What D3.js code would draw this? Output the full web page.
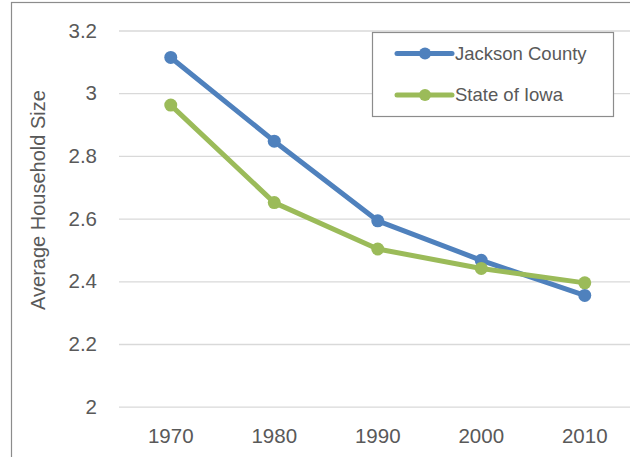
<!DOCTYPE html>
<html>
<head>
<meta charset="utf-8">
<script src="https://cdn.jsdelivr.net/npm/d3@7"></script>
<style>
  body { margin: 0; background: #fff; }
  svg { display: block; font-family: "Liberation Sans", Arial, sans-serif; }
  .axis text { fill: #595959; font-size: 20.5px; }
  .grid line { stroke: #d9d9d9; stroke-width: 1.3; }
</style>
</head>
<body>
<div id="plot"></div>
<script>
// chart data
var years = ["1970", "1980", "1990", "2000", "2010"];
var jackson = [3.114, 2.847, 2.593, 2.467, 2.355];
var iowa = [2.962, 2.651, 2.503, 2.441, 2.395];
var yTicks = [2, 2.2, 2.4, 2.6, 2.8, 3, 3.2];
var seriesNames = ["Jackson County", "State of Iowa"];
var seriesColors = ["#4f81bd", "#9bbb59"];

var W = 630, H = 457;
var plotLeft = 119, plotRight = 636.5, plotTop = 30.5, plotBottom = 406.7;

var svg = d3.select("#plot")
    .append("svg")
    .attr("width", W)
    .attr("height", H);

// outer chart border (cropped at right and bottom)
svg.append("rect")
    .attr("x", 11.5)
    .attr("y", 2.5)
    .attr("width", 700)
    .attr("height", 600)
    .attr("fill", "#fff")
    .attr("stroke", "#8c8c8c")
    .attr("stroke-width", 1.2);

var x = d3.scaleBand()
    .domain(years)
    .range([plotLeft, plotRight]);

var y = d3.scaleLinear()
    .domain([2, 3.2])
    .range([plotBottom, plotTop]);

// Y axis + gridlines
var yAxis = svg.append("g").attr("class", "axis grid")
    .attr("transform", "translate(" + plotLeft + ",0)")
    .call(d3.axisLeft(y).tickValues(yTicks).tickSize(-(plotRight - plotLeft)).tickPadding(22)
        .tickFormat(function(d) { return d3.format("")(d); }));
yAxis.select(".domain").remove();

// X axis labels
var xAxis = svg.append("g").attr("class", "axis")
    .attr("transform", "translate(0," + plotBottom + ")")
    .call(d3.axisBottom(x).tickSize(0).tickPadding(22));
xAxis.select(".domain").remove();

// Y axis title
svg.append("text")
    .attr("text-anchor", "middle")
    .attr("transform", "translate(45,200) rotate(-90)")
    .attr("fill", "#595959")
    .style("font-size", "20px")
    .text("Average Household Size");

var line = d3.line()
    .x(function(d, i) { return x(years[i]) + x.bandwidth() / 2; })
    .y(function(d) { return y(d); });

[jackson, iowa].forEach(function(vals, k) {
    var g = svg.append("g");
    g.append("path")
        .datum(vals)
        .attr("d", line)
        .attr("fill", "none")
        .attr("stroke", seriesColors[k])
        .attr("stroke-width", 5)
        .attr("stroke-linejoin", "round");
    g.selectAll("circle")
        .data(vals)
        .enter()
        .append("circle")
        .attr("cx", function(d, i) { return x(years[i]) + x.bandwidth() / 2; })
        .attr("cy", function(d) { return y(d); })
        .attr("r", 6.5)
        .attr("fill", seriesColors[k]);
});

// legend
var legend = svg.append("g");
legend.append("rect")
    .attr("x", 372.5)
    .attr("y", 32.5)
    .attr("width", 241)
    .attr("height", 84)
    .attr("fill", "#fff")
    .attr("stroke", "#8c8c8c")
    .attr("stroke-width", 1.2);

seriesNames.forEach(function(name, k) {
    var ly = 53.5 + k * 41.5;
    legend.append("line")
        .attr("x1", 397).attr("x2", 452)
        .attr("y1", ly).attr("y2", ly)
        .attr("stroke", seriesColors[k])
        .attr("stroke-width", 5)
        .attr("stroke-linecap", "round");
    legend.append("circle")
        .attr("cx", 425).attr("cy", ly)
        .attr("r", 6)
        .attr("fill", seriesColors[k]);
    legend.append("text")
        .attr("x", 455)
        .attr("y", ly)
        .attr("dy", "0.35em")
        .attr("fill", "#595959")
        .style("font-size", "18.5px")
        .text(name);
});
</script>
</body>
</html>
